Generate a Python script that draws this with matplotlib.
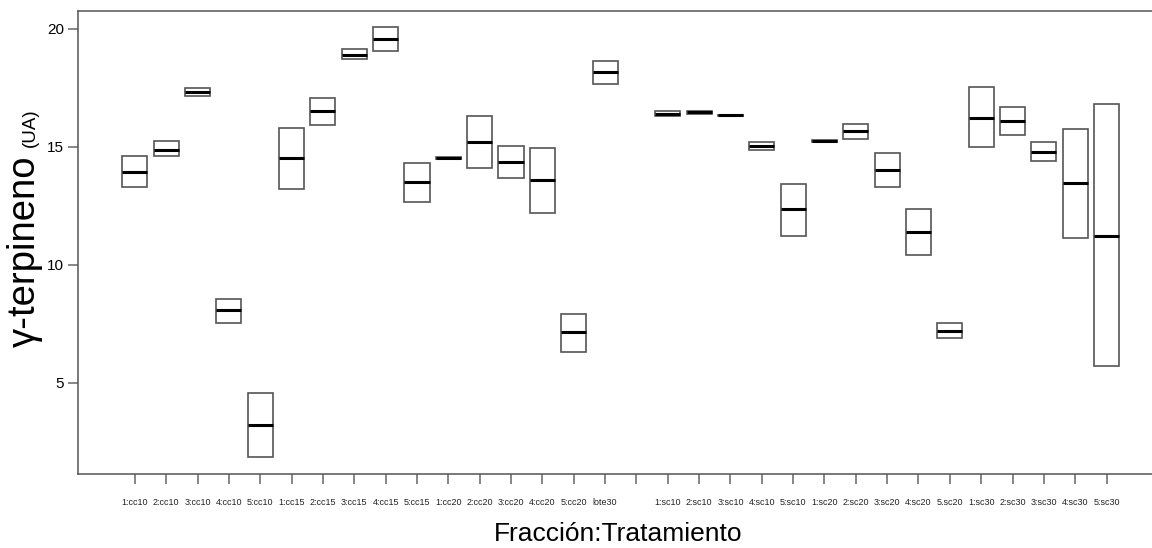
import numpy as np
import matplotlib
matplotlib.use("Agg")
import matplotlib.pyplot as plt

plt.rcParams['font.family'] = ['Liberation Sans', 'DejaVu Sans']

# categories (empty slot between lote30 and 1:sc10)
labels = ['1:cc10', '2:cc10', '3:cc10', '4:cc10', '5:cc10',
          '1:cc15', '2:cc15', '3:cc15', '4:cc15', '5:cc15',
          '1:cc20', '2:cc20', '3:cc20', '4:cc20', '5:cc20',
          'lote30', '',
          '1:sc10', '2:sc10', '3:sc10', '4:sc10', '5:sc10',
          '1:sc20', '2:sc20', '3:sc20', '4:sc20', '5.sc20',
          '1:sc30', '2:sc30', '3:sc30', '4:sc30', '5:sc30']

lo = [13.29, 14.60, 17.15, 7.52, 1.85,
      13.23, 15.92, 18.71, 19.05, 12.68,
      14.50, 14.09, 13.70, 12.19, 6.33,
      17.65, np.nan,
      16.30, 16.40, 16.33, 14.86, 11.24,
      15.21, 15.35, 13.32, 10.44, 6.92,
      15.01, 15.50, 14.39, 11.15, 5.73]

med = [13.93, 14.89, 17.31, 8.07, 3.20,
       14.51, 16.51, 18.91, 19.57, 13.51,
       14.54, 15.20, 14.34, 13.59, 7.15,
       18.16, np.nan,
       16.41, 16.47, 16.35, 15.03, 12.36,
       15.25, 15.68, 14.03, 11.41, 7.22,
       16.24, 16.08, 14.80, 13.45, 11.24]

hi = [14.60, 15.24, 17.48, 8.56, 4.58,
      15.78, 17.09, 19.14, 20.06, 14.31,
      14.58, 16.30, 15.03, 14.94, 7.93,
      18.66, np.nan,
      16.52, 16.53, 16.37, 15.22, 13.42,
      15.29, 15.99, 14.73, 12.39, 7.52,
      17.52, 16.67, 15.19, 15.74, 16.81]

x = np.arange(len(labels))
lo = np.array(lo)
med = np.array(med)
hi = np.array(hi)
w = 0.8

fig = plt.figure(figsize=(11.52, 5.48), dpi=100)
ax = fig.add_axes([0.0681, 0.135, 0.9319, 0.845])

ax.bar(x, hi - lo, bottom=lo, width=w, fill=False,
       edgecolor='#555555', linewidth=1.2)
ax.hlines(med, x - w / 2, x + w / 2, colors='black', linewidth=2.2)

ax.set_xlim(-1.8, 32.45)
ax.set_ylim(1.14, 20.76)
ax.set_yticks([5, 10, 15, 20])
ax.set_xticks(x)
ax.set_xticklabels(labels, fontsize=6.5, color='#222222')

for s in ['left', 'top', 'bottom']:
    ax.spines[s].set_color('#555555')
    ax.spines[s].set_linewidth(1.1)
ax.spines['right'].set_visible(False)

ax.tick_params(axis='x', length=7, width=1.1, color='#666666', pad=10.5)
ax.tick_params(axis='y', length=7, width=1.1, color='#666666', pad=3.5,
               labelsize=11)

# axis titles
fig.text(0.0304, 1 - 347 / 548, 'γ-terpineno', rotation=90,
         rotation_mode='anchor', ha='left', va='baseline', fontsize=27.5)
fig.text(0.0304, 1 - 147 / 548, '(UA)', rotation=90,
         rotation_mode='anchor', ha='left', va='baseline', fontsize=13.5)
fig.text(618 / 1152, 1 - 541 / 548, 'Fracción:Tratamiento',
         ha='center', va='baseline', fontsize=19)

fig.savefig('out.png', dpi=100)
